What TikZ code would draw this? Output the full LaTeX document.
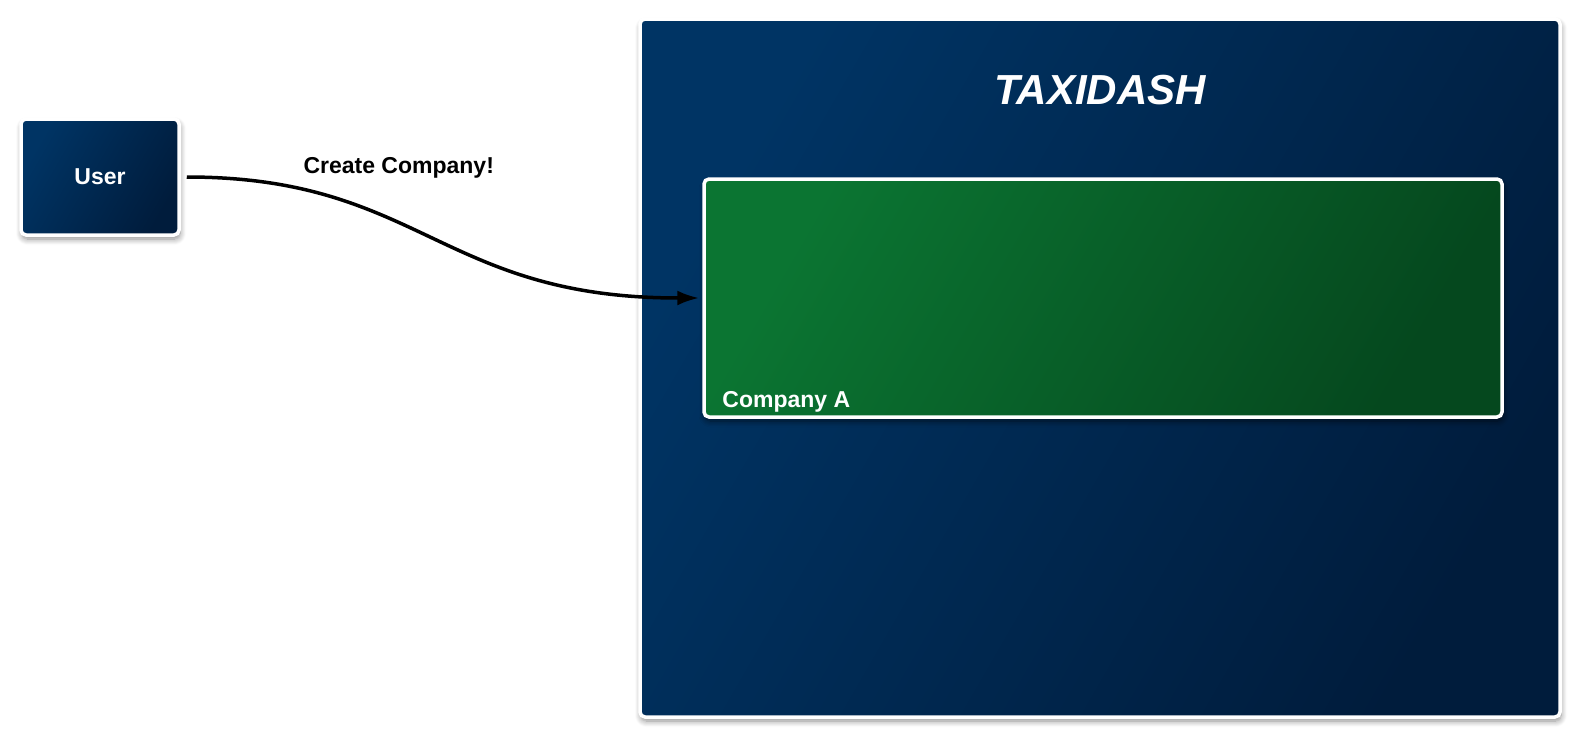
\documentclass[tikz,border=0pt]{standalone}
\usepackage{fontspec}
\setmainfont{Liberation Sans}
\usepackage{tikz}
\usetikzlibrary{arrows.meta, positioning, calc, shadows.blur}

\definecolor{navylight}{RGB}{0,52,100}
\definecolor{navydark}{RGB}{0,28,60}
\definecolor{tenantlight}{RGB}{11,117,50}
\definecolor{tenantdark}{RGB}{5,72,30}

\begin{document}
\begin{tikzpicture}[
    x=1pt, y=-1pt,
    font=\fontsize{23}{28}\selectfont\bfseries,
    % Styles
    actor/.style={
        draw=white, line width=3.5pt, rounded corners=5pt,
        left color=navylight, right color=navydark, shading angle=60,
        minimum width=158pt, minimum height=116pt,
        text=white, align=center,
        blur shadow={shadow xshift=1pt, shadow yshift=-4pt, shadow blur radius=6pt, shadow blur steps=8, shadow opacity=45}
    },
    system/.style={
        draw=white, line width=3.5pt, rounded corners=5pt,
        left color=navylight, right color=navydark, shading angle=60,
        minimum width=920pt, minimum height=698pt,
        blur shadow={shadow xshift=1pt, shadow yshift=-4pt, shadow blur radius=6pt, shadow blur steps=8, shadow opacity=45}
    },
    tenant/.style={
        draw=white, line width=3.5pt, rounded corners=5pt,
        left color=tenantlight, right color=tenantdark, shading angle=60,
        minimum width=798pt, minimum height=238pt,
        blur shadow={shadow xshift=1pt, shadow yshift=-4pt, shadow blur radius=6pt, shadow blur steps=8, shadow opacity=55}
    },
    title/.style={text=white, font=\fontsize{42}{50}\selectfont\bfseries\itshape},
    boxlabel/.style={text=white, inner sep=0pt},
    flow/.style={-{Latex[length=22pt, width=15pt]}, line width=3.5pt, black},
    flowlabel/.style={text=black, inner sep=0pt}
]

    \useasboundingbox (0,0) rectangle (1590,744);

    % --- System ---
    \node[system] (taxidash) at (1100,368) {};
    \node[title, anchor=base] (taxidashname) at ($(taxidash.north)+(0,87)$) {TAXIDASH};

    \node[tenant] (companya) at (1103,298) {};
    \node[boxlabel, anchor=base west] (companyaname) at ($(companya.south west)+(20,-11)$) {Company A};

    % --- Actor ---
    \node[actor] (user) at (100,177) {User};

    % --- Connections ---
    \draw[flow, shorten <=6pt, shorten >=3pt] (user.east) .. controls +(240,0) and +(-262,0) .. (companya.west);
    \node[flowlabel, anchor=base] (createlabel) at ($(user.east)+(218,-4)$) {Create Company!};

\end{tikzpicture}
\end{document}
